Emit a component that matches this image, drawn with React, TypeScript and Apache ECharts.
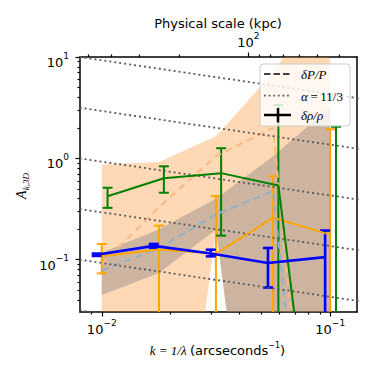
import React, { useEffect, useRef } from "react";
import * as echarts from "echarts";

// ---- data ----
const kOrange = [0.01, 0.0178, 0.0316, 0.0562, 0.1];
const kGreen = [0.0106, 0.0187, 0.0333, 0.0593, 0.106];
const kBlue = [0.0095, 0.0169, 0.03, 0.0534, 0.095];

const orangeVal = [0.108, 0.126, 0.115, 0.259, 0.177];
const orangeHi = [0.143, 0.217, 0.424, 0.668, 1.94];
const orangeLo = [0.0733, 0.001, 0.001, 0.001, 0.001];

const greenVal = [0.423, 0.637, 0.715, 0.54, 0.000015];
const greenHi = [0.513, 0.834, 1.26, 3.35, 2.05];
const greenLo = [0.325, 0.458, 0.173, 0.001, 0.001];

const blueVal = [0.112, 0.137, 0.115, 0.0927, 0.106];
const blueHi = [0.115, 0.143, 0.1256, 0.1306, 0.194];
const blueLo = [0.109, 0.131, 0.108, 0.0532, 0.001];

const bandK = [0.01, 0.0178, 0.0316, 0.0562, 0.1];
const orangeBandHi = [0.87, 0.92, 1.65, 7.0, 48];
const orangeBandLo = [1e-5, 1e-5, 0.198, 1e-5, 1e-5];
const grayBandHi = [0.117, 0.2, 0.4, 1.05, 3.2];
const grayBandLo = [0.045, 0.074, 0.198, 1e-5, 1e-5];
const orangeModel = [0.09, 0.33, 1.05, 2.0, 3e-6];
const grayModel = [0.079, 0.129, 0.28, 0.475, 3e-6];

const dottedK = [0.008, 0.14];
const dottedLeft = [10, 3.16, 1, 0.316, 0.1, 0.0316];
const dottedRight = [3.85, 1.22, 0.385, 0.122, 0.0385, 0.0122];

const yMajor = [0.1, 1, 10];
const yMinor = [0.04, 0.05, 0.06, 0.07, 0.08, 0.09, 0.2, 0.3, 0.4, 0.5, 0.6, 0.7, 0.8, 0.9, 2, 3, 4, 5, 6, 7, 8, 9];
const xMajor = [0.01, 0.1];
const xMinor = [0.009, 0.02, 0.03, 0.04, 0.05, 0.06, 0.07, 0.08, 0.09];
const kpcMajor = [100];
const kpcMinor = [40, 50, 60, 70, 80, 90, 200, 300, 400, 500];

const xMin = 0.00803;
const xMax = 0.131;
const yMin = 0.0305;
const yMax = 10;
const kpcMin = 33.44;
const kpcMax = 545.5;

const SANS = "DejaVu Sans";
const SERIF = "Liberation Serif";

const supFmt = (v: number) => {
  const e = Math.round(Math.log10(v));
  return `{b|10}{s|${e < 0 ? "\u2212" + -e : e}}`;
};
const richSup = {
  b: { fontSize: 13, fontFamily: SANS, color: "#000", lineHeight: 18, verticalAlign: "bottom" },
  s: { fontSize: 9, fontFamily: SANS, color: "#000", lineHeight: 10, verticalAlign: "top" },
};

function band(hi: number[], lo: number[], color: string) {
  return {
    type: "custom",
    clip: true,
    silent: true,
    data: [[bandK[0], lo[0], hi[0]]],
    renderItem: (_p: any, api: any) => {
      const pts: number[][] = [];
      for (let i = 0; i < bandK.length; i++) pts.push(api.coord([bandK[i], hi[i]]));
      for (let i = bandK.length - 1; i >= 0; i--) pts.push(api.coord([bandK[i], lo[i]]));
      return { type: "polygon", shape: { points: pts }, style: { fill: color, stroke: "none" } };
    },
  };
}

function errBars(k: number[], val: number[], lo: number[], hi: number[], color: string, w: number) {
  return {
    type: "custom",
    clip: true,
    silent: true,
    data: k.map((x, i) => [x, val[i], lo[i], hi[i]]),
    renderItem: (_p: any, api: any) => {
      const x = api.value(0);
      const pt = api.coord([x, api.value(3)]);
      const pb = api.coord([x, api.value(2)]);
      const cw = 5;
      const st = { stroke: color, lineWidth: w };
      return {
        type: "group",
        children: [
          { type: "line", shape: { x1: pt[0], y1: pt[1], x2: pb[0], y2: pb[1] }, style: st },
          { type: "line", shape: { x1: pt[0] - cw, y1: pt[1], x2: pt[0] + cw, y2: pt[1] }, style: st },
          { type: "line", shape: { x1: pb[0] - cw, y1: pb[1], x2: pb[0] + cw, y2: pb[1] }, style: st },
        ],
      };
    },
  };
}

function lineSeries(k: number[], v: number[], color: string, w: number, type: any = "solid") {
  return {
    type: "line",
    data: k.map((x, i) => [x, v[i]]),
    showSymbol: false,
    symbol: "none",
    silent: true,
    clip: true,
    lineStyle: { color, width: w, type, cap: "butt" },
  };
}

export default function App() {
  const ref = useRef<HTMLDivElement>(null);
  useEffect(() => {
    if (!ref.current) return;
    const chart = echarts.init(ref.current, null, { renderer: "svg" });
    const axisLineStyle = { show: true, onZero: false, lineStyle: { color: "#000", width: 1.5 } };
    const tickStyle = { color: "#000", width: 1.2 };

    const dotted = dottedLeft.map((l, i) =>
      lineSeries(dottedK, [l, dottedRight[i]], "#5a5a5a", 1.8, [2, 3])
    );

    const LZ = 500;
    const option: any = {
      animation: false,
      grid: { left: 80, right: 17, top: 57, bottom: 62, containLabel: false },
      xAxis: [
        {
          type: "log", position: "bottom", min: xMin, max: xMax,
          axisLine: axisLineStyle,
          axisTick: { show: true, length: 4.5, lineStyle: tickStyle, customValues: xMajor },
          axisLabel: { show: true, customValues: xMajor, formatter: supFmt, rich: richSup, margin: 6 },
          splitLine: { show: false }, minorTick: { show: false },
        },
        {
          type: "log", position: "bottom", min: xMin, max: xMax,
          axisLine: { show: false, onZero: false },
          axisTick: { show: true, length: 2.5, lineStyle: tickStyle, customValues: xMinor },
          axisLabel: { show: false }, splitLine: { show: false },
        },
        {
          type: "log", position: "top", inverse: true, min: kpcMin, max: kpcMax,
          axisLine: axisLineStyle,
          axisTick: { show: true, length: 4.5, lineStyle: tickStyle, customValues: kpcMajor },
          axisLabel: { show: true, customValues: kpcMajor, formatter: supFmt, rich: richSup, margin: 8 },
          splitLine: { show: false },
        },
        {
          type: "log", position: "top", inverse: true, min: kpcMin, max: kpcMax,
          axisLine: { show: false, onZero: false },
          axisTick: { show: true, length: 2.5, lineStyle: tickStyle, customValues: kpcMinor },
          axisLabel: { show: false }, splitLine: { show: false },
        },
      ],
      yAxis: [
        {
          type: "log", position: "left", min: yMin, max: yMax,
          axisLine: axisLineStyle,
          axisTick: { show: true, length: 4.5, lineStyle: tickStyle, customValues: yMajor },
          axisLabel: { show: true, customValues: yMajor, formatter: supFmt, rich: richSup, margin: 11, padding: [6, 0, 0, 0] },
          splitLine: { show: false },
        },
        {
          type: "log", position: "left", min: yMin, max: yMax,
          axisLine: { show: false, onZero: false },
          axisTick: { show: true, length: 2.5, lineStyle: tickStyle, customValues: yMinor },
          axisLabel: { show: false }, splitLine: { show: false },
        },
        {
          type: "log", position: "right", min: yMin, max: yMax,
          axisLine: axisLineStyle,
          axisTick: { show: false }, axisLabel: { show: false }, splitLine: { show: false },
        },
      ],
      series: [
        band(orangeBandHi, orangeBandLo, "rgba(255,127,14,0.3)"),
        band(grayBandHi, grayBandLo, "rgba(128,128,128,0.4)"),
        lineSeries(bandK, orangeModel, "#fbb882", 2, [7, 5]),
        lineSeries(bandK, grayModel, "#8eb0c8", 2, [7, 5]),
        ...dotted,
        lineSeries(kOrange, orangeVal, "#FFA500", 2),
        errBars(kOrange, orangeVal, orangeLo, orangeHi, "#FFA500", 2),
        lineSeries(kGreen, greenVal, "#008000", 2),
        errBars(kGreen, greenVal, greenLo, greenHi, "#008000", 2),
        lineSeries(kBlue, blueVal, "#0000FF", 2.6),
        errBars(kBlue, blueVal, blueLo, blueHi, "#0000FF", 2.6),
      ],
      graphic: [
        {
          type: "text", x: 218, y: 23, z: 100,
          style: { text: "Physical scale (kpc)", font: `13px '${SANS}'`, fill: "#000", align: "center", verticalAlign: "middle" },
        },
        {
          type: "text", x: 217.5, y: 349, z: 100,
          style: {
            text: "{m|k = 1/λ} {n|(arcseconds}{s|\u22121}{n|)}",
            align: "center", verticalAlign: "middle",
            rich: {
              m: { fontSize: 13, fontFamily: SERIF, fontStyle: "italic", fill: "#000", lineHeight: 16, verticalAlign: "bottom" },
              n: { fontSize: 13, fontFamily: SANS, fill: "#000", lineHeight: 16, verticalAlign: "bottom" },
              s: { fontSize: 8, fontFamily: SANS, fill: "#000", lineHeight: 9, verticalAlign: "top" },
            },
          },
        },
        {
          type: "text", x: 22, y: 186, rotation: Math.PI / 2, z: 100,
          style: {
            text: "{m|A}{sub|k,3D}",
            align: "center", verticalAlign: "middle",
            rich: {
              m: { fontSize: 14, fontFamily: SERIF, fontStyle: "italic", fill: "#000", lineHeight: 16, verticalAlign: "top" },
              sub: { fontSize: 9, fontFamily: SERIF, fontStyle: "italic", fill: "#000", lineHeight: 10, verticalAlign: "bottom" },
            },
          },
        },
        { type: "rect", z: LZ, shape: { x: 260, y: 64, width: 90, height: 62, r: 3 }, style: { fill: "rgba(255,255,255,0.8)", stroke: "#cccccc", lineWidth: 1 } },
        { type: "line", z: LZ + 1, shape: { x1: 264, y1: 74, x2: 291, y2: 74 }, style: { stroke: "#404040", lineWidth: 1.8, lineDash: [6.5, 3] } },
        { type: "line", z: LZ + 1, shape: { x1: 264, y1: 95.7, x2: 291, y2: 95.7 }, style: { stroke: "#666666", lineWidth: 1.8, lineDash: [2, 2.6] } },
        { type: "line", z: LZ + 1, shape: { x1: 264, y1: 115, x2: 291, y2: 115 }, style: { stroke: "#000", lineWidth: 2.5 } },
        { type: "line", z: LZ + 1, shape: { x1: 278, y1: 108, x2: 278, y2: 122.5 }, style: { stroke: "#000", lineWidth: 2.5 } },
        { type: "text", z: LZ + 1, x: 301, y: 74, style: { text: "δP/P", font: `italic 13px '${SERIF}'`, fill: "#000", verticalAlign: "middle" } },
        { type: "text", z: LZ + 1, x: 301, y: 96, style: { text: "{i|α}{n|\u2009=\u200911/3}", verticalAlign: "middle", rich: { i: { fontSize: 13, fontFamily: SERIF, fontStyle: "italic", fill: "#000" }, n: { fontSize: 13, fontFamily: SERIF, fill: "#000" } } } },
        { type: "text", z: LZ + 1, x: 301, y: 115, style: { text: "δρ/ρ", font: `italic 13px '${SERIF}'`, fill: "#000", verticalAlign: "middle" } },
      ],
    };
    chart.setOption(option);
    return () => chart.dispose();
  }, []);
  return <div ref={ref} style={{ position: "absolute", left: 0, top: 0, width: 374, height: 374 }} />;
}
